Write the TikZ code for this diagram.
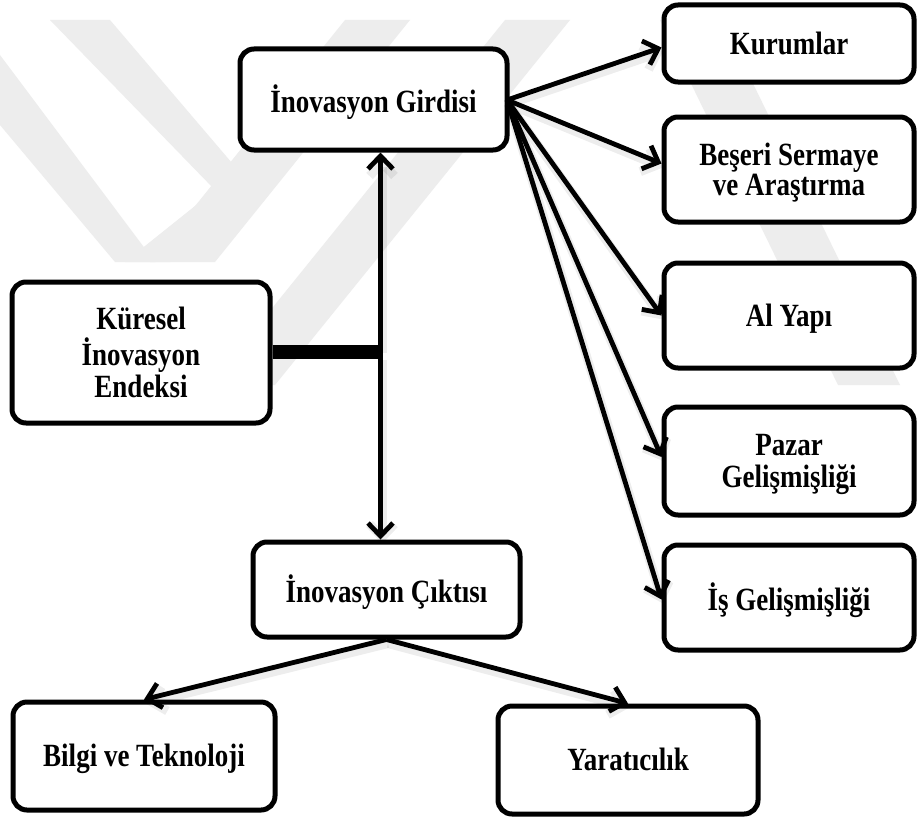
\documentclass[tikz,border=0pt]{standalone}
\usepackage{fontspec}
\usepackage{graphicx}
\setmainfont{Liberation Serif}
\usetikzlibrary{arrows.meta,calc}

% tall bold label, lines centred, set slightly below the box middle
\newcommand{\lbl}[1]{\raisebox{-4pt}[\height][\depth]{\scalebox{1}[1.2]{\fontsize{27}{25}\selectfont\bfseries
  \begin{tabular}{@{}c@{}}#1\end{tabular}}}}

\tikzset{
  box/.style={draw=black, line width=5pt, rounded corners=14pt, fill=white,
    align=center, inner sep=0pt},
  link/.style={line width=4.8pt, -{Straight Barb[length=13pt,width=25pt]},
    preaction={draw=black, opacity=0.07, line width=9pt,
      transform canvas={shift={(1.5pt,-4pt)}}}},
  bar/.style={line width=6.5pt},
  mark band/.style={fill=black!7, draw=none}
}

\begin{document}
\begin{tikzpicture}[x=1pt,y=-1pt]
\useasboundingbox (0,0) rectangle (917,816);
\fill[white] (0,0) rectangle (917,816);

% faint background emblem
\fill[mark band] (50,20) -- (110,20) -- (255,190) -- (170,262) -- (125,262) -- (215,190) -- cycle;
\fill[mark band] (0,55) -- (0,125) -- (115,262) -- (155,262) -- cycle;
\fill[mark band] (345,20) -- (410,20) -- (215,262) -- (150,262) -- cycle;
\fill[mark band] (505,20) -- (570,20) -- (275,385) -- (210,385) -- cycle;
\fill[mark band] (660,20) -- (722,20) -- (900,385) -- (838,385) -- cycle;

% boxes
\node[box, minimum width=267pt, minimum height=101pt] (gird) at (373.5,99.5) {\lbl{İnovasyon Girdisi}};
\node[box, minimum width=258pt, minimum height=141pt] (kures) at (141,352.5) {\lbl{Küresel\\İnovasyon\\Endeksi}};
\node[box, minimum width=267pt, minimum height=95pt] (cikti) at (386.5,589.5) {\lbl{İnovasyon Çıktısı}};
\node[box, minimum width=250pt, minimum height=77pt] (kur) at (789,43.5) {\lbl{Kurumlar}};
\node[box, minimum width=250pt, minimum height=105pt] (bes) at (789,169.5) {\lbl{Beşeri Sermaye\\ve Araştırma}};
\node[box, minimum width=250pt, minimum height=105pt] (alt) at (789,315.5) {\lbl{Al Yapı}};
\node[box, minimum width=250pt, minimum height=108pt] (paz) at (789,461) {\lbl{Pazar\\Gelişmişliği}};
\node[box, minimum width=250pt, minimum height=105pt] (isg) at (789,597.5) {\lbl{İş Gelişmişliği}};
\node[box, minimum width=262pt, minimum height=108pt] (bil) at (144,756) {\lbl{Bilgi ve Teknoloji}};
\node[box, minimum width=260pt, minimum height=108pt] (yar) at (628,760) {\lbl{Yaratıcılık}};

% index splits into input and output branches
\coordinate (jup) at (380.5,348.5);
\coordinate (jdn) at (380.5,355.5);
\draw[link] (jup) -- (gird.south -| jup);
\draw[link] (jdn) -- (cikti.north -| jdn);
\draw[bar] (kures.east |- jup) -- ($(jup)+(2.5,0)$);
\draw[bar] (kures.east |- jdn) -- ($(jdn)+(2.5,0)$);

% input pillars
\coordinate (gout) at (507,100);
\draw[link] (gout) -- ($(kur.west)+(0,4)$);
\draw[link] (gout) -- ($(bes.west)+(0,-6)$);
\draw[link] (gout) -- (alt.west);
\draw[link] (gout) -- ($(paz.west)+(0,-4)$);
\draw[link] (gout) -- ($(isg.west)+(0,2)$);

% output pillars
\draw[link] (cikti.south) -- (bil.north);
\draw[link] (cikti.south) -- (yar.north);
\end{tikzpicture}
\end{document}
